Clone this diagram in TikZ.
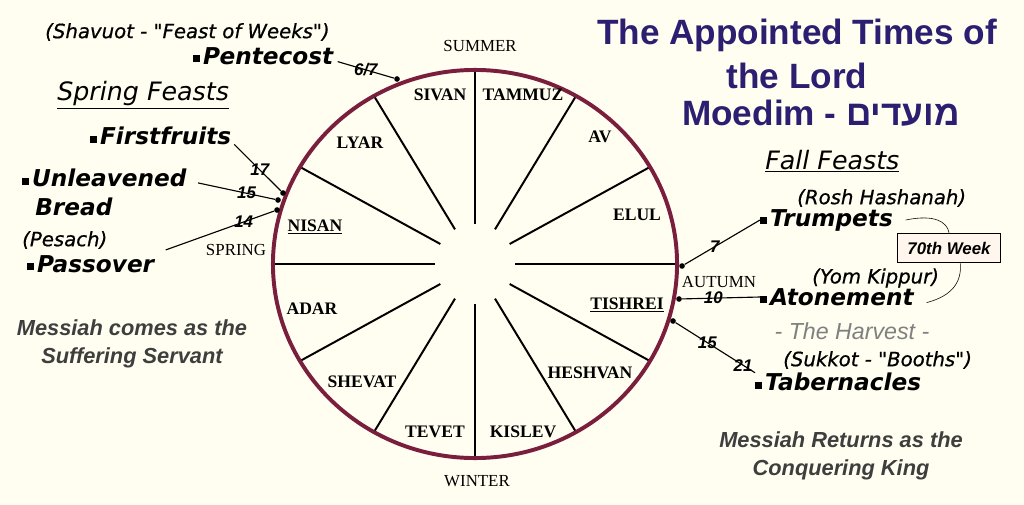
\documentclass[tikz,border=0pt]{standalone}
\usepackage{fontspec}
\setmainfont{Liberation Serif}
\newfontfamily\feastfont{DejaVu Sans}
\newfontfamily\parenfont[ItalicFeatures={FakeBold=0.7}]{DejaVu Sans}
\newfontfamily\titlefont{Liberation Sans}
\newfontfamily\hebfont[Script=Hebrew]{Liberation Sans}
\TeXXeTstate=1
\usepackage{tikz}
\usetikzlibrary{positioning,calc}
\definecolor{cream}{RGB}{255,254,240}
\definecolor{wheel}{RGB}{122,30,62}
\definecolor{titleblue}{RGB}{44,30,112}
\definecolor{msgray}{RGB}{62,62,62}
\definecolor{boxfill}{RGB}{255,247,238}
\newcommand{\sq}{\rule[1.5pt]{5pt}{5pt}\hspace{2pt}}

\begin{document}
\begin{tikzpicture}[x=0.025cm, y=-0.025cm,
		feast/.style={anchor=west, inner sep=0pt, font=\feastfont\bfseries\itshape\fontsize{16.5}{20.6}\selectfont},
		paren/.style={anchor=west, inner sep=0pt, font=\parenfont\itshape\fontsize{14}{16}\selectfont},
		heading/.style={anchor=west, inner sep=0pt, font=\feastfont\itshape\fontsize{18}{20}\selectfont},
		month/.style={inner sep=0pt, font=\bfseries\fontsize{12.5}{14}\selectfont},
		season/.style={inner sep=0pt, font=\fontsize{12}{14}\selectfont},
		spoke/.style={line width=1.4pt},
		daydot/.style={circle, fill, inner sep=0pt, minimum size=4pt},
		feastline/.style={line width=0.8pt},
		daynum/.style={inner sep=0pt, font=\titlefont\bfseries\itshape\fontsize{12}{14}\selectfont},
		titletext/.style={inner sep=0pt, text=titleblue, font=\titlefont\bfseries\fontsize{25}{28}\selectfont},
		messiah/.style={inner sep=0pt, align=center, text=msgray, font=\titlefont\bfseries\itshape\fontsize{15.5}{19.5}\selectfont}]
	\fill[cream] (0,0) rectangle (1024,505);
	\useasboundingbox (0,0) rectangle (1024,505);

	% wheel of months
	\coordinate (hub) at (475,264);
	\foreach \a in {0,30,...,330}
		\draw[spoke] ($(hub)+(\a:1cm)$) -- ($(hub)+(\a:5.05cm and 4.85cm)$);
	\draw[wheel, line width=2.8pt] (hub) ellipse [x radius=5.05cm, y radius=4.85cm];

	\foreach \m/\x/\y in {SIVAN/440/95, TAMMUZ/523/95, LYAR/360/143, AV/600/137, ELUL/637/215,
			ADAR/312/309, SHEVAT/362/382, TEVET/435/432, KISLEV/523/432, HESHVAN/590/373}
		\node[month] (\m) at (\x,\y) {\m};
	\node[month] (NISAN) at (315,227) {\underline{NISAN}};
	\node[month] (TISHREI) at (627,305) {\underline{TISHREI}};

	\node[season] (summer) at (480,46) {SUMMER};
	\node[season] (winter) at (477,481) {WINTER};
	\node[season] (spring) at (236,250) {SPRING};
	\node[season] (autumn) at (719,282) {AUTUMN};

	% title
	\node[titletext] (title1) at (797,35) {The Appointed Times of};
	\node[titletext] (title2) at (797,76) {the Lord};
	\node[titletext] (title3) at (821,113) {Moedim - {\hebfont\beginR מועדים\endR}};

	% spring feasts
	\node[paren] (shavuot) at (45,32) {(Shavuot - "Feast of Weeks")};
	\node[feast] (pentecost) at (193,56) {\sq Pentecost};
	\node[heading] (springfeasts) at (57,95) {\underline{Spring Feasts}};
	\node[feast] (firstfruits) at (90,136) {\sq Firstfruits};
	\node[feast] (unleavened) at (22,178) {\sq Unleavened};
	\node[feast] (bread) at (35,207) {Bread};
	\node[paren] (pesach) at (22,240) {(Pesach)};
	\node[feast] (passover) at (27,264) {\sq Passover};

	\node[daydot] (dPent) at (397,79) {};
	\node[daydot] (dFirst) at (283,193) {};
	\node[daydot] (dUnl) at (278,200) {};
	\node[daydot] (dPass) at (277,210) {};
	\draw[feastline] ([xshift=3pt,yshift=-4pt]pentecost.east) -- node[daynum, pos=0.5] {6/7} (dPent);
	\draw[feastline] ([xshift=2pt,yshift=-6pt]firstfruits.east) -- node[daynum, pos=0.55] {17} (dFirst);
	\draw[feastline] ([xshift=8pt,yshift=-3.5pt]unleavened.east) -- node[daynum, pos=0.63] {15} (dUnl);
	\draw[feastline] ([xshift=8pt,yshift=10pt]passover.east) -- node[daynum, pos=0.72] {14} (dPass);

	% fall feasts
	\node[heading] (fallfeasts) at (765,161) {\underline{Fall Feasts}};
	\node[paren] (rosh) at (797,198) {(Rosh Hashanah)};
	\node[feast] (trumpets) at (760,220) {\sq Trumpets};
	\node[paren] (yomkippur) at (812,278) {(Yom Kippur)};
	\node[feast] (atonement) at (760,297) {\sq Atonement};
	\node[inner sep=0pt, text=gray, font=\titlefont\itshape\fontsize{16.5}{18}\selectfont] (harvest) at (852,331) {- The Harvest -};
	\node[paren] (sukkot) at (783,360) {(Sukkot - "Booths")};
	\node[feast] (tabernacles) at (755,382) {\sq Tabernacles};

	\node[daydot] (dTrump) at (682,266) {};
	\node[daydot] (dAton) at (679,299) {};
	\node[daydot] (dTab) at (673,321) {};
	\draw[feastline] (dTrump) -- node[daynum, pos=0.4] {7} (trumpets.west);
	\draw[feastline] (dAton) -- node[daynum, pos=0.4] {10} (atonement.west);
	\draw[feastline] (dTab) -- node[daynum, pos=0.4] {15} node[daynum, pos=0.85] {21} (tabernacles.north west);

	\node[draw, fill=boxfill, line width=0.8pt, minimum width=73pt, minimum height=21pt, inner sep=0pt,
		font=\titlefont\bfseries\itshape\fontsize{12}{14}\selectfont] (week) at (949,248) {70th Week};
	\draw[thin] ([xshift=9pt]trumpets.east) .. controls (935,214) and (947,222) .. (week.north);
	\draw[thin] ([xshift=8pt]week.south) .. controls (962,282) and (952,296) .. ([xshift=9pt,yshift=-4pt]atonement.east);

	% messiah notes
	\node[messiah] (servant) at (132,344) {Messiah comes as the\\Suffering Servant};
	\node[messiah] (king) at (841,456) {Messiah Returns as the\\Conquering King};
\end{tikzpicture}
\end{document}
